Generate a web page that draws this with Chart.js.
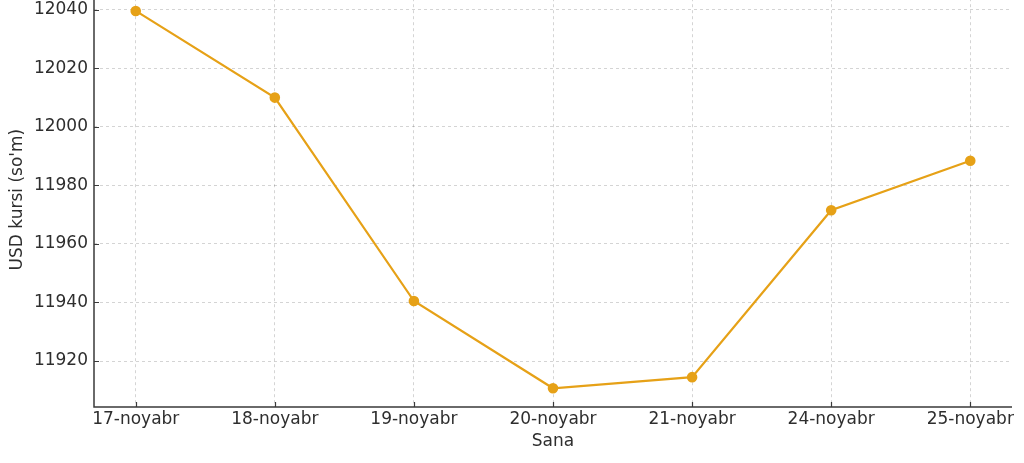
<!DOCTYPE html>
<html>
<head>
<meta charset="utf-8">
<script src="https://cdn.jsdelivr.net/npm/chart.js@4"></script>
<style>
  html, body { margin: 0; padding: 0; background: #fff; overflow: hidden; }
  #wrap { position: absolute; left: 0; top: -24px; width: 1024px; height: 487px; }
</style>
</head>
<body>
<div id="wrap"><canvas id="chart"></canvas></div>
<script>
const dates = ['17-noyabr', '18-noyabr', '19-noyabr', '20-noyabr', '21-noyabr', '24-noyabr', '25-noyabr'];
const rates = [12039.6, 12010, 11940.5, 11910.7, 11914.5, 11971.5, 11988.4];
const yTicks = [11920, 11940, 11960, 11980, 12000, 12020, 12040];

const lineColor = '#E6A117';
const axisColor = '#3a3a3a';
const textColor = '#2e2e2e';
const gridColor = 'rgba(0,0,0,0.17)';
const fontFamily = '"DejaVu Sans", sans-serif';
const fontSize = 17;

// spines on left/bottom and matplotlib style ticks pointing into the plot
const innerTicks = {
  id: 'innerTicks',
  afterDraw(chart) {
    const c = chart.ctx, a = chart.chartArea;
    const xs = chart.scales.x, ys = chart.scales.y;
    c.save();
    c.strokeStyle = axisColor;
    c.lineWidth = 1.5;
    c.beginPath();
    c.moveTo(a.left, a.top); c.lineTo(a.left, a.bottom); c.lineTo(a.right, a.bottom);
    c.stroke();
    c.lineWidth = 1.2;
    c.beginPath();
    yTicks.forEach(v => {
      const y = Math.round(ys.getPixelForValue(v)) + 0.5;
      c.moveTo(a.left, y); c.lineTo(a.left + 5, y);
    });
    dates.forEach((d, i) => {
      const x = Math.round(xs.getPixelForValue(i)) + 0.5;
      c.moveTo(x, a.bottom); c.lineTo(x, a.bottom - 5);
    });
    c.stroke();
    c.restore();
  }
};

new Chart(document.getElementById('chart'), {
  type: 'line',
  data: {
    datasets: [{
      label: 'USD',
      data: rates.map((v, i) => ({x: i, y: v})),
      borderColor: lineColor,
      backgroundColor: lineColor,
      borderWidth: 2.2,
      pointRadius: 4.2,
      pointHoverRadius: 4.2,
      tension: 0,
      fill: false
    }]
  },
  options: {
    responsive: true,
    maintainAspectRatio: false,
    animation: false,
    layout: { padding: { top: 1, right: 12, left: 0, bottom: 0 } },
    plugins: { legend: { display: false }, tooltip: { enabled: false } },
    scales: {
      x: {
        type: 'linear',
        min: -0.3,
        max: 6.3,
        afterBuildTicks: s => { s.ticks = dates.map((d, i) => ({value: i})); },
        afterFit: s => { s.height = 56; },
        ticks: {
          callback: v => dates[v],
          color: textColor,
          font: { family: fontFamily, size: fontSize },
          padding: 2,
          maxRotation: 0,
          autoSkip: false
        },
        grid: { color: gridColor, drawTicks: false, lineWidth: 1 },
        border: { display: false, dash: [3, 3] },
        title: {
          display: true,
          text: 'Sana',
          color: textColor,
          font: { family: fontFamily, size: fontSize },
          padding: { top: 0, bottom: 11 }
        }
      },
      y: {
        min: 11904.3,
        max: 12046,
        afterBuildTicks: s => { s.ticks = yTicks.map(v => ({value: v})); },
        afterFit: s => { s.width = 94; },
        ticks: {
          callback: v => String(v),
          color: textColor,
          font: { family: fontFamily, size: fontSize },
          padding: 6
        },
        grid: { color: gridColor, drawTicks: false, lineWidth: 1 },
        border: { display: false, dash: [3, 3] },
        title: {
          display: true,
          text: "USD kursi (so'm)",
          color: textColor,
          font: { family: fontFamily, size: fontSize },
          padding: { top: 7, bottom: 0 }
        }
      }
    }
  },
  plugins: [innerTicks]
});
</script>
</body>
</html>
